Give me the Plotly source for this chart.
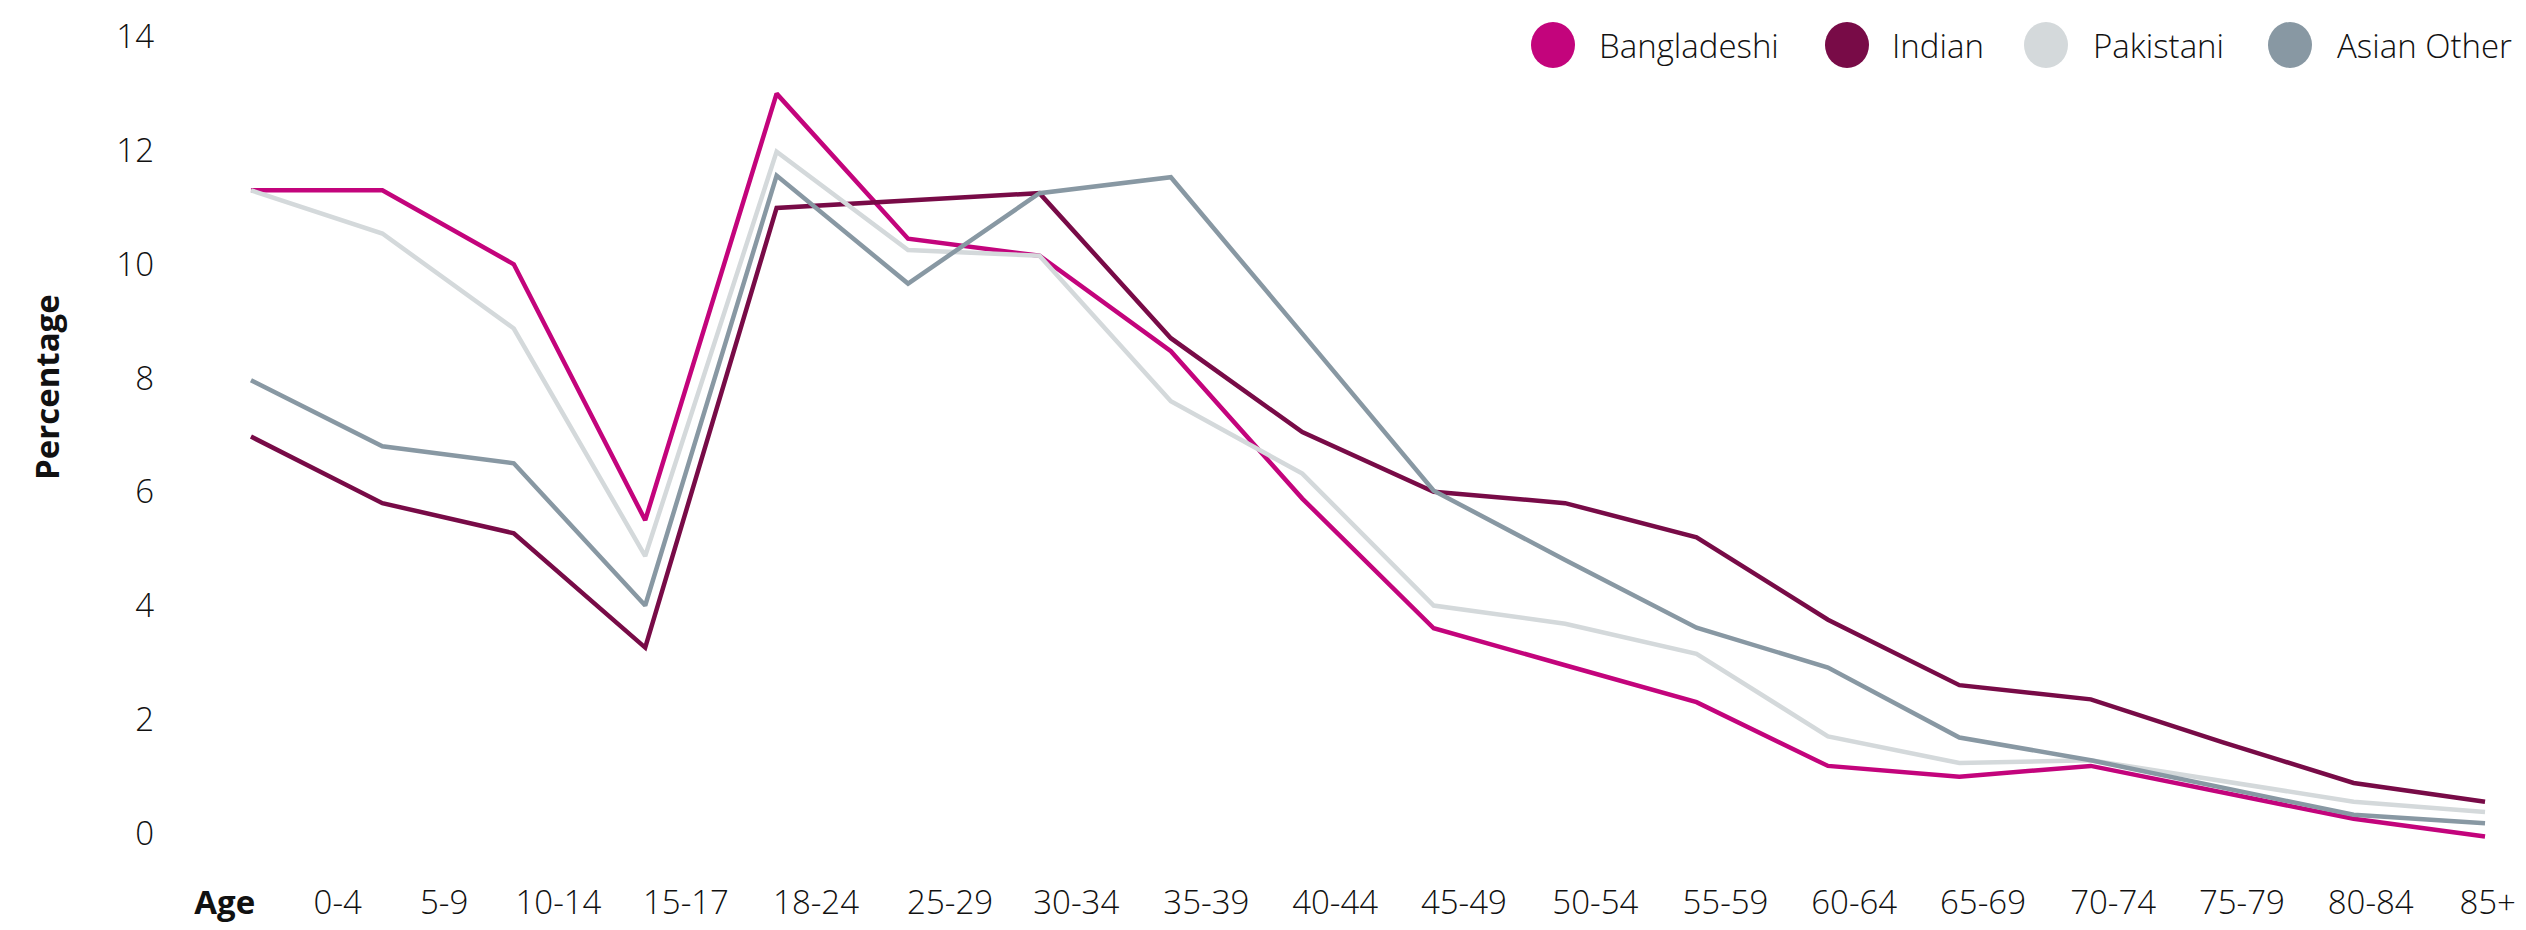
import plotly.graph_objects as go

# ---------------- data ----------------
age_groups = ["0-4", "5-9", "10-14", "15-17", "18-24", "25-29", "30-34", "35-39", "40-44",
              "45-49", "50-54", "55-59", "60-64", "65-69", "70-74", "75-79", "80-84", "85+"]
bangladeshi = [11.3, 11.3, 10.0, 5.5, 13.0, 10.45, 10.15, 8.47, 5.88, 3.6, 2.95, 2.3, 1.18, 0.99, 1.18, 0.72, 0.25, -0.06]
indian      = [6.97, 5.8, 5.27, 3.26, 10.99, 11.12, 11.25, 8.7, 7.05, 6.0, 5.8, 5.2, 3.75, 2.6, 2.35, 1.6, 0.88, 0.55]
pakistani   = [11.3, 10.54, 8.87, 4.87, 11.98, 10.25, 10.15, 7.59, 6.32, 4.0, 3.68, 3.15, 1.7, 1.23, 1.28, 0.92, 0.55, 0.37]
asian_other = [7.96, 6.8, 6.5, 4.0, 11.56, 9.66, 11.25, 11.53, 8.78, 6.02, 4.8, 3.61, 2.91, 1.68, 1.28, 0.8, 0.32, 0.17]

series_names = ["Bangladeshi", "Indian", "Pakistani", "Asian Other"]
series_values = [bangladeshi, indian, pakistani, asian_other]
y_ticks = [0, 2, 4, 6, 8, 10, 12, 14]

# ---------------- style ----------------
colors = ["#C3047C", "#780B47", "#D4D9DB", "#8898A3"]
FONT = "Open Sans, Noto Sans, sans-serif"
TXT = "#111111"

# tick label placement (in category-index units along the x axis)
x_label_pos = [-0.2, 0.66, 1.47, 2.34, 3.31, 4.30, 5.32, 6.28, 7.27, 8.25, 9.23,
               10.23, 11.22, 12.20, 13.18, 14.17, 15.15, 16.13, 17.02]
x_label_text = ["<b>Age</b>"] + age_groups

W, H = 2526, 930
ML, MR, MT, MB = 175, 16, 14, 50

fig = go.Figure()
idx = list(range(len(age_groups)))
for name, vals, col in zip(series_names, series_values, colors):
    fig.add_trace(go.Scatter(x=idx, y=vals, mode="lines", name=name,
                             line=dict(color=col, width=4.5), showlegend=False,
                             hovertemplate="%{text}: %{y}%<extra>" + name + "</extra>",
                             text=age_groups))

# custom legend: big circles + text (positions in pixels)
legend_circle_x = [1553, 1847, 2046, 2290]
legend_text_x = [1597, 1890, 2091, 2335]
legend_y = 45
pw = W - ML - MR
ph = H - MT - MB
def px2paper_x(p):
    return (p - ML) / pw
def px2paper_y(p):
    return (H - MB - p) / ph

shapes = []
annotations = []
for name, col, cx, tx in zip(series_names, colors, legend_circle_x, legend_text_x):
    shapes.append(dict(type="circle", xref="paper", yref="paper",
                       xsizemode="pixel", ysizemode="pixel",
                       xanchor=px2paper_x(cx), yanchor=px2paper_y(legend_y),
                       x0=-22, x1=22, y0=-23, y1=23,
                       fillcolor=col, line=dict(width=0)))
    annotations.append(dict(text=name, xref="paper", yref="paper",
                            x=px2paper_x(tx), y=px2paper_y(legend_y),
                            xanchor="left", yanchor="middle", showarrow=False,
                            font=dict(family=FONT, size=33, color=TXT, weight=300)))

# y-axis title as annotation
annotations.append(dict(text="<b>Percentage</b>", xref="paper", yref="paper",
                        x=px2paper_x(46), y=px2paper_y(387), textangle=-90,
                        xanchor="center", yanchor="middle", showarrow=False,
                        font=dict(family=FONT, size=33, color=TXT)))

fig.update_layout(
    width=W, height=H, autosize=False,
    margin=dict(l=ML, r=MR, t=MT, b=MB, autoexpand=False),
    paper_bgcolor="white", plot_bgcolor="white",
    shapes=shapes, annotations=annotations,
    xaxis=dict(range=[-0.578, 17.19], tickmode="array", tickvals=x_label_pos,
               ticktext=x_label_text, showgrid=False, zeroline=False, showline=False,
               ticks="", automargin=False,
               tickfont=dict(family=FONT, size=33, color=TXT, weight=300)),
    yaxis=dict(range=[-0.826, 14.4], tickmode="array", tickvals=y_ticks,
               showgrid=False, zeroline=False, showline=False, ticks="",
               automargin=False, ticklabelstandoff=20,
               tickfont=dict(family=FONT, size=33, color=TXT, weight=300)),
)

fig.write_html("out.html", config={"displayModeBar": False},
               post_script="document.body.style.margin='0';document.body.style.overflow='hidden';")
